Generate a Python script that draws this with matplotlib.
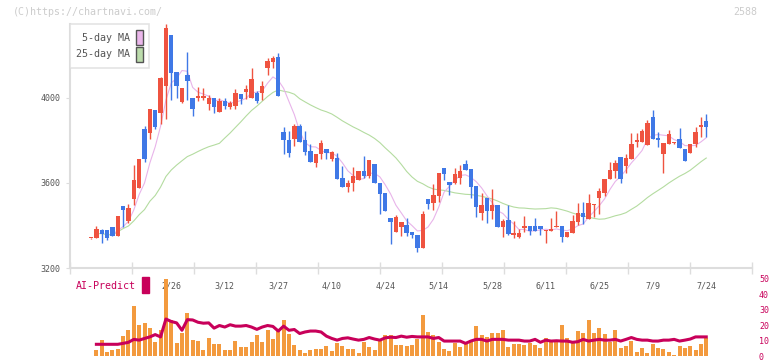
import numpy as np
import pandas as pd
import matplotlib
matplotlib.use('Agg')
import matplotlib.pyplot as plt
from matplotlib.patches import Patch, Rectangle

# daily candles (open, high, low, close)
opens = [3340, 3343, 3379, 3379, 3393, 3351, 3492, 3421, 3526, 3578,
         3853, 3837, 3942, 3928, 4054, 4296, 4124, 3981, 4110, 3999,
         3998, 3999, 3972, 3999, 3936, 3988, 3957, 3960, 4019, 4030,
         3998, 4025, 4025, 4143, 4171, 4194, 3841, 3802, 3807, 3868,
         3802, 3750, 3695, 3735, 3758, 3712, 3716, 3622, 3580, 3598,
         3614, 3656, 3634, 3689, 3598, 3552, 3434, 3371, 3394, 3402,
         3369, 3355, 3296, 3525, 3507, 3539, 3669, 3605, 3598, 3625,
         3689, 3666, 3586, 3457, 3531, 3470, 3497, 3394, 3426, 3356,
         3348, 3390, 3398, 3398, 3398, 3374, 3376, 3394, 3398, 3347,
         3366, 3415, 3457, 3429, 3498, 3531, 3554, 3617, 3658, 3721,
         3681, 3713, 3793, 3794, 3779, 3912, 3813, 3736, 3784, 3788,
         3806, 3758, 3743, 3782, 3865, 3892]
highs = [3342, 3398, 3384, 3379, 3393, 3445, 3492, 3501, 3685, 3713,
         3868, 3947, 3942, 4100, 4347, 4296, 4124, 4049, 4218, 3999,
         4053, 4046, 4012, 3999, 4000, 4002, 3988, 4040, 4019, 4063,
         4140, 4031, 4082, 4190, 4199, 4213, 3864, 3845, 3877, 3877,
         3845, 3783, 3736, 3800, 3758, 3750, 3739, 3678, 3614, 3673,
         3656, 3729, 3708, 3689, 3598, 3552, 3434, 3450, 3418, 3434,
         3369, 3355, 3468, 3525, 3593, 3646, 3669, 3605, 3671, 3685,
         3706, 3666, 3586, 3553, 3531, 3572, 3497, 3431, 3495, 3422,
         3385, 3445, 3398, 3436, 3398, 3379, 3436, 3466, 3398, 3371,
         3449, 3506, 3511, 3546, 3502, 3576, 3619, 3699, 3706, 3721,
         3737, 3836, 3836, 3855, 3898, 3944, 3841, 3787, 3850, 3795,
         3860, 3758, 3783, 3864, 3911, 3926]
lows = [3338, 3340, 3316, 3332, 3351, 3351, 3394, 3413, 3498, 3578,
        3699, 3806, 3856, 3876, 3900, 3991, 4000, 3975, 3991, 3917,
        3987, 3989, 3943, 3929, 3936, 3950, 3946, 3950, 3973, 3997,
        3998, 3976, 3990, 4106, 4143, 4009, 3736, 3720, 3772, 3795,
        3734, 3700, 3673, 3712, 3715, 3705, 3617, 3580, 3558, 3562,
        3614, 3625, 3625, 3598, 3455, 3470, 3311, 3371, 3351, 3351,
        3341, 3275, 3296, 3478, 3474, 3512, 3612, 3544, 3595, 3595,
        3661, 3530, 3440, 3426, 3414, 3431, 3394, 3345, 3355, 3340,
        3340, 3370, 3356, 3374, 3356, 3316, 3376, 3394, 3323, 3347,
        3366, 3402, 3407, 3429, 3440, 3455, 3538, 3617, 3624, 3598,
        3646, 3713, 3769, 3794, 3779, 3806, 3769, 3647, 3784, 3785,
        3766, 3704, 3743, 3771, 3818, 3818]
closes = [3341, 3383, 3361, 3343, 3351, 3445, 3474, 3484, 3614, 3713,
          3714, 3947, 3865, 4096, 4328, 4119, 4054, 4049, 4078, 3948,
          4007, 4010, 3999, 3957, 3988, 3960, 3975, 4022, 3994, 4042,
          4089, 3988, 4054, 4174, 4190, 4009, 3800, 3743, 3868, 3795,
          3748, 3700, 3736, 3787, 3743, 3745, 3617, 3580, 3601, 3633,
          3656, 3633, 3708, 3598, 3547, 3470, 3418, 3442, 3418, 3363,
          3357, 3292, 3454, 3500, 3544, 3646, 3641, 3592, 3642, 3656,
          3661, 3583, 3489, 3497, 3470, 3497, 3394, 3423, 3359, 3366,
          3363, 3398, 3376, 3374, 3385, 3379, 3383, 3398, 3347, 3371,
          3421, 3457, 3441, 3504, 3502, 3562, 3619, 3661, 3693, 3617,
          3716, 3784, 3802, 3845, 3884, 3806, 3802, 3787, 3831, 3792,
          3766, 3704, 3783, 3840, 3873, 3865]

# lower panel: volume bars and AI-Predict line
volume = [0, 4.0, 10.3, 2.5, 4.0, 4.6, 12.9, 17.1, 32.5, 20.3,
          21.3, 18.4, 8.9, 17.1, 50, 23.4, 8.2, 15.2, 27.8, 10.3,
          9.7, 4.0, 11.4, 7.6, 7.6, 4.0, 4.0, 9.7, 5.7, 5.7,
          8.9, 13.5, 8.9, 16.7, 10.8, 17.7, 23.4, 14.6, 7.2, 4.0,
          1.9, 4.0, 4.6, 4.6, 6.5, 3.4, 8.2, 6.5, 4.6, 4.6,
          1.9, 8.9, 5.7, 4.0, 10.8, 13.5, 13.9, 7.2, 7.2, 6.5,
          7.2, 11.0, 26.8, 15.6, 13.5, 8.9, 4.6, 3.4, 8.2, 5.7,
          7.6, 10.3, 19.2, 13.5, 12.4, 15.2, 15.2, 17.1, 5.7, 7.6,
          7.6, 7.2, 8.2, 7.2, 5.5, 12.0, 8.9, 9.3, 20.3, 11.4,
          8.9, 16.0, 15.2, 23.4, 15.2, 18.4, 14.6, 8.9, 17.1, 5.1,
          6.8, 9.7, 2.5, 5.1, 1.9, 7.6, 5.1, 4.4, 2.5, 0.4,
          6.3, 5.1, 6.5, 4.0, 7.6, 11.4]
ai_predict = [np.nan, 7.6, 7.6, 7.6, 7.6, 7.6, 8.2, 8.9, 10.8, 10.3,
              11.4, 12.4, 13.9, 12.4, 24.0, 22.4, 21.5, 16.7, 23.6, 23.4,
              21.9, 21.3, 21.5, 18.1, 19.8, 18.8, 20.3, 19.4, 19.4, 19.8,
              18.8, 17.3, 18.8, 19.8, 19.2, 16.2, 19.4, 16.7, 17.2, 14.6,
              15.6, 16.2, 16.2, 15.6, 12.9, 11.4, 10.3, 11.4, 11.8, 11.0,
              10.3, 10.8, 12.0, 11.0, 10.3, 11.8, 12.2, 12.0, 12.9, 12.2,
              12.7, 12.4, 12.4, 12.4, 11.4, 12.0, 9.7, 9.7, 9.7, 9.7,
              8.2, 9.7, 10.8, 10.8, 9.7, 10.8, 10.8, 10.8, 10.3, 10.3,
              10.3, 9.7, 9.7, 10.8, 8.9, 10.3, 9.7, 9.9, 9.7, 9.7,
              8.9, 9.3, 10.8, 9.7, 10.3, 10.8, 10.3, 10.3, 10.8, 9.7,
              10.8, 12.0, 10.8, 10.3, 10.3, 9.7, 9.7, 10.3, 10.3, 10.8,
              9.7, 10.3, 11.0, 12.4, 12.4, 12.4]

date_labels = ['2/26', '3/12', '3/27', '4/10', '4/24', '5/14',
               '5/28', '6/11', '6/25', '7/9', '7/24']
date_index = [15, 25, 35, 45, 55, 65, 75, 85, 95, 105, 115]

RED = '#ef5340'
BLUE = '#3f78e6'
ORANGE = '#f39a3e'
CRIMSON = '#c8005a'
MONO = 'DejaVu Sans Mono'

W, H = 772, 361


def px_rect(x0, y0, x1, y1):
    return [x0 / W, 1 - y1 / H, (x1 - x0) / W, (y1 - y0) / H]


o = np.array(opens, float)
hi = np.array(highs, float)
lo = np.array(lows, float)
c = np.array(closes, float)
x = np.arange(len(c))
xlim = (-3.93, 123.55)

fig = plt.figure(figsize=(W / 100, H / 100), dpi=100)

# price panel
ax = fig.add_axes(px_rect(70, 24, 752, 268))
ax.set_xlim(xlim)
ax.set_ylim(3200, 4348)

ma5 = pd.Series(c).rolling(5).mean()
ma25 = pd.Series(c).rolling(25, min_periods=1).mean()
ax.plot(x[1:], ma25[1:], color='#b4dca0', lw=0.8, zorder=1)
ax.plot(x, ma5, color='#e8b4ea', lw=0.8, zorder=1)

cols = np.where(c >= o, RED, BLUE)
ax.vlines(x, lo, hi, colors=cols, lw=1, zorder=2, clip_on=False)
ax.bar(x, np.maximum(np.abs(c - o), 4), bottom=np.minimum(o, c),
       width=0.82, color=cols, linewidth=0, zorder=3, clip_on=False)

for s in ['top', 'right']:
    ax.spines[s].set_visible(False)
for s in ['left', 'bottom']:
    ax.spines[s].set_color('#dddddd')
    ax.spines[s].set_linewidth(1.5)

ax.set_yticks([3200, 3600, 4000])
ax.set_yticklabels(['3200', '3600', '4000'], family=MONO, fontsize=6, color='#555555')
ax.tick_params(axis='y', length=3, color='#dddddd', pad=4)

ax.set_xticks(np.linspace(xlim[0], xlim[1], 12))
ax.set_xticklabels([])
ax.tick_params(axis='x', which='major', direction='inout', length=8, color='#dddddd', width=1)
ax.set_xticks(date_index, minor=True)
ax.set_xticklabels(date_labels, minor=True, family=MONO, fontsize=6, color='#555555')
ax.tick_params(axis='x', which='minor', length=0, pad=10)

leg = ax.legend([Patch(facecolor='#ebb7eb', edgecolor='#555555'),
                 Patch(facecolor='#bcdcac', edgecolor='#555555')],
                ['5-day MA', '25-day MA'], loc='upper left', bbox_to_anchor=(0, 1),
                markerfirst=False, fancybox=False, edgecolor='#dddddd',
                prop={'family': MONO, 'size': 7.2}, labelcolor='#555555',
                handlelength=0.7, handleheight=1.9, handletextpad=0.6,
                borderaxespad=0, borderpad=0.6, labelspacing=0.2)
leg.get_frame().set_linewidth(1.2)

# volume / AI panel
ax2 = fig.add_axes(px_rect(70, 279, 752, 356))
ax2.patch.set_visible(False)
ax2.set_xlim(xlim)
ax2.set_ylim(0, 50)
ax2.bar(x, volume, width=0.75, color=ORANGE, linewidth=0)
ax2.plot(x, ai_predict, color=CRIMSON, lw=2.2)
for s in ax2.spines.values():
    s.set_visible(False)
ax2.set_xticks([])
ax2.yaxis.tick_right()
ax2.set_yticks([0, 10, 20, 30, 40, 50])
ax2.set_yticklabels(['0', '10', '20', '30', '40', '50'], family=MONO, fontsize=6, color=CRIMSON)
ax2.tick_params(axis='y', length=0, pad=5)

fig.text(76 / W, 1 - 286 / H, 'AI-Predict', family=MONO, fontsize=7.2, color=CRIMSON, va='center')
fig.patches.append(Rectangle((142 / W, 1 - 293 / H), 7 / W, 16 / H,
                             transform=fig.transFigure, color=CRIMSON))

fig.text(13 / W, 1 - 12 / H, '(C)https://chartnavi.com/', family=MONO, fontsize=7.2,
         color='#cccccc', va='center')
fig.text(757 / W, 1 - 12 / H, '2588', family=MONO, fontsize=7.2, color='#cccccc',
         va='center', ha='right')

fig.savefig('out.png', dpi=100)
